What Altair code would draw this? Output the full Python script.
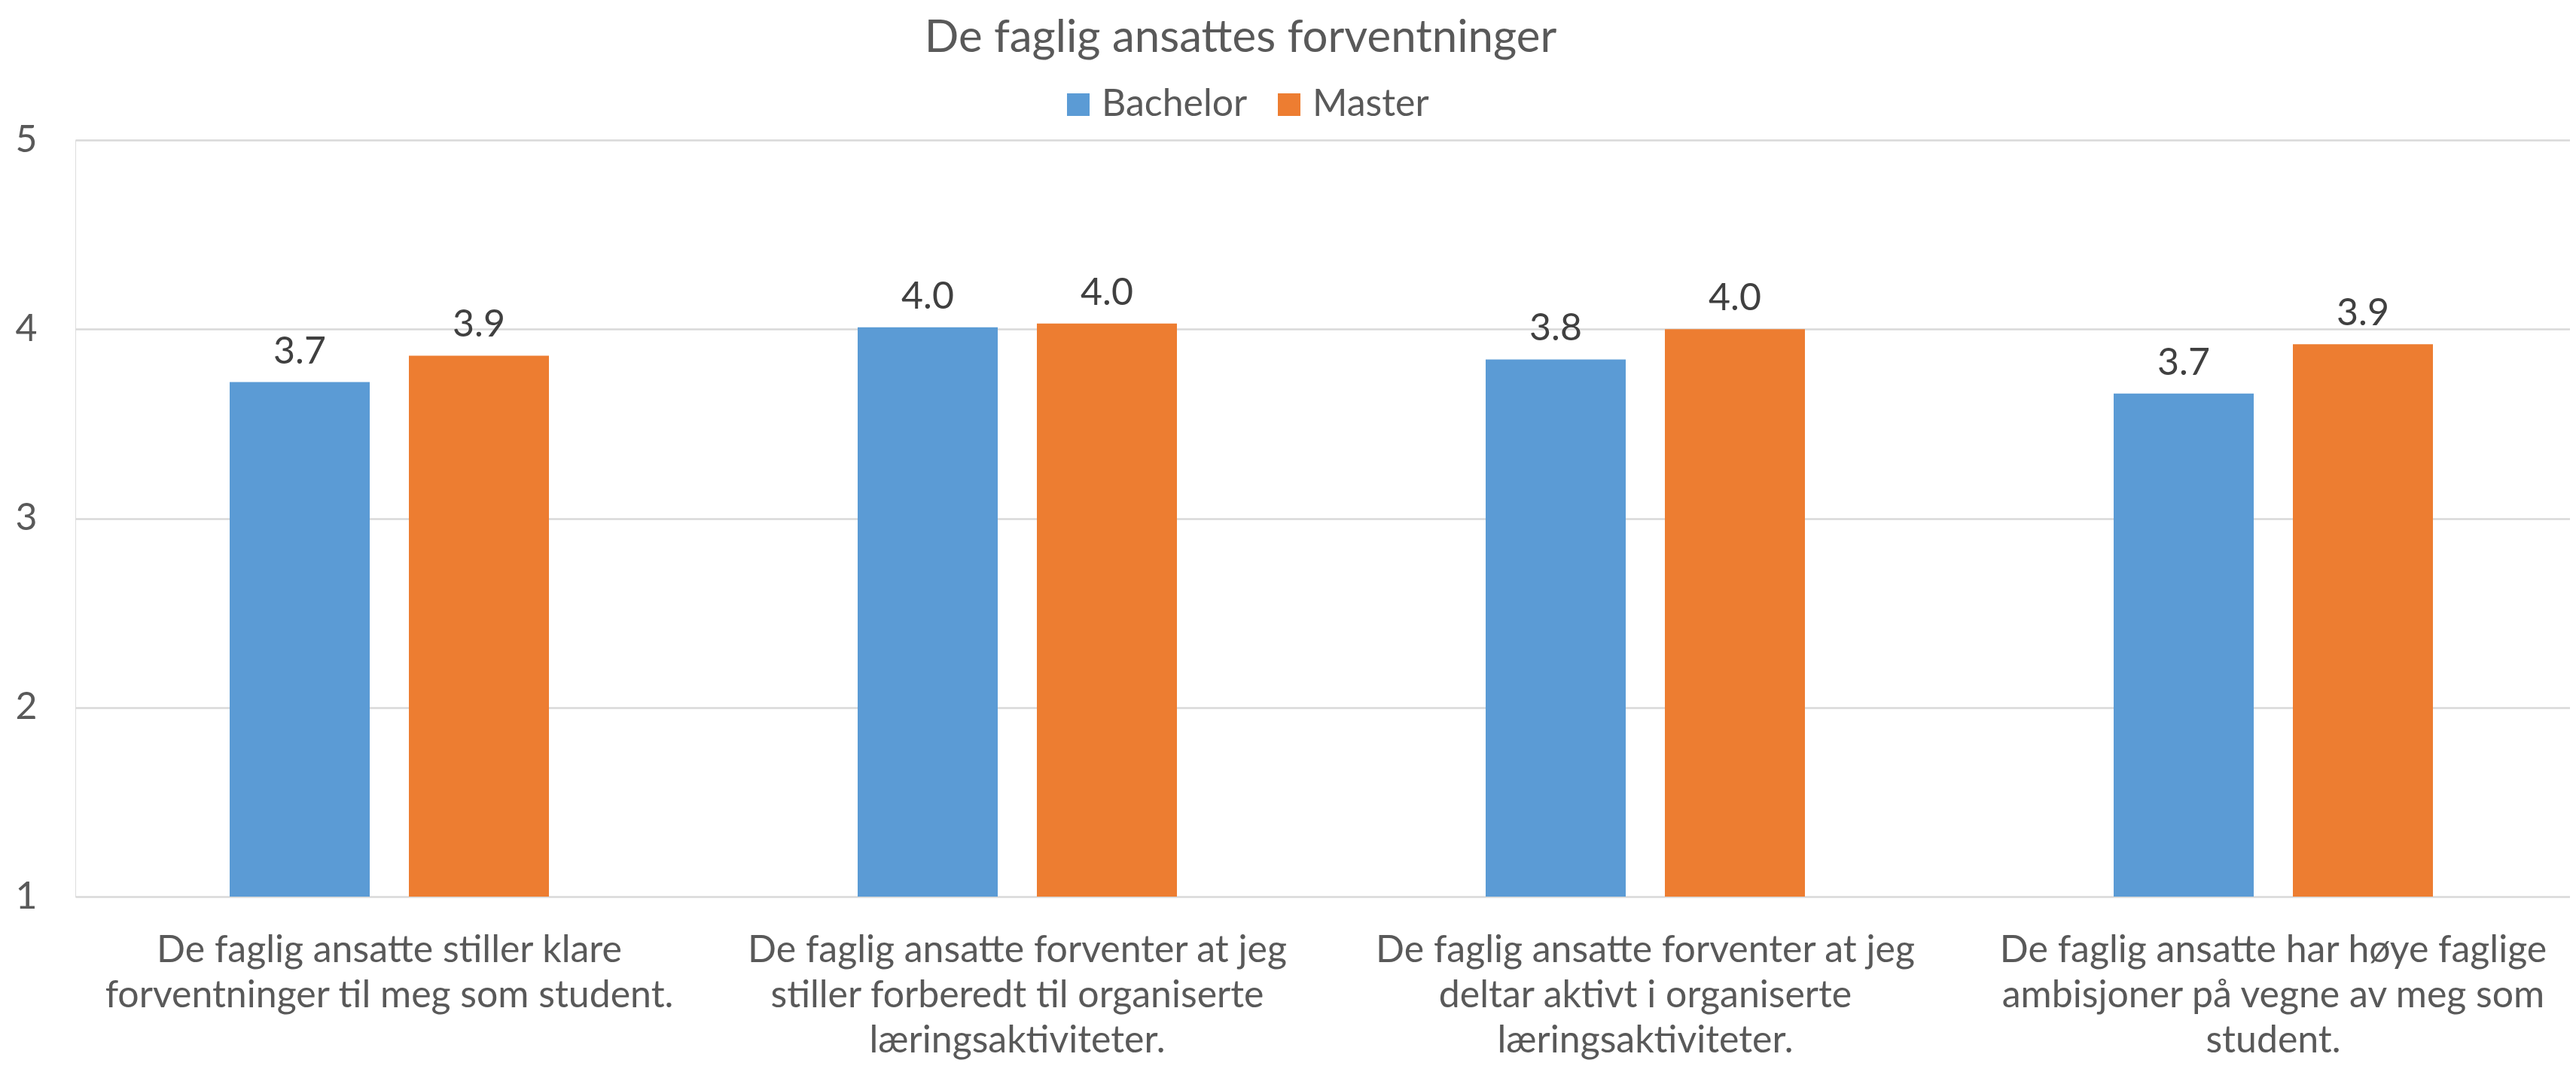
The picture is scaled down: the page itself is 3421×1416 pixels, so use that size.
import altair as alt
import pandas as pd

categories = [
    "De faglig ansatte stiller klare|forventninger til meg som student.",
    "De faglig ansatte forventer at jeg|stiller forberedt til organiserte|læringsaktiviteter.",
    "De faglig ansatte forventer at jeg|deltar aktivt i organiserte|læringsaktiviteter.",
    "De faglig ansatte har høye faglige|ambisjoner på vegne av meg som|student.",
]
series = ["Bachelor", "Master"]
bachelor = [3.72, 4.01, 3.84, 3.66]
master = [3.86, 4.03, 4.00, 3.92]
y_ticks = [1, 2, 3, 4, 5]
colors = ["#5B9BD5", "#ED7D31"]

rows = []
for i, c in enumerate(categories):
    rows.append({"cat": c, "series": series[0], "value": bachelor[i]})
    rows.append({"cat": c, "series": series[1], "value": master[i]})
df = pd.DataFrame(rows)

FONT = "Lato"
TXT = "#595959"
W, H = 3313, 1005

x_enc = alt.X(
    "cat:N", sort=categories, title=None,
    scale=alt.Scale(range=[0, 3336], paddingInner=0.4916, paddingOuter=0.2458),
    axis=alt.Axis(labelAngle=0, labelExpr="split(datum.label, '|')",
                  labelFontSize=50, labelColor=TXT, labelFont=FONT,
                  labelLineHeight=60, labelPadding=46, ticks=False,
                  domain=False, labelLimit=2000),
)
xo_enc = alt.XOffset("series:N", sort=series,
                     scale=alt.Scale(paddingInner=0.2185, paddingOuter=0))
y_enc = alt.Y(
    "value:Q", title=None,
    scale=alt.Scale(domain=[1, 5], nice=False, zero=False),
    axis=alt.Axis(values=y_ticks, format="d", labelFontSize=50, labelColor=TXT,
                  labelFont=FONT, labelPadding=51, ticks=False, domain=False,
                  gridColor="#D9D9D9", gridWidth=2.5, minExtent=92, maxExtent=92),
)
color_enc = alt.Color(
    "series:N", sort=series,
    scale=alt.Scale(domain=series, range=colors),
    legend=alt.Legend(title=None, orient="none", legendX=1307, legendY=-72,
                      direction="horizontal", symbolType="square", symbolSize=900,
                      symbolStrokeWidth=0, labelFontSize=50, labelFont=FONT,
                      labelColor=TXT, labelOffset=6, columnPadding=30,
                      labelLimit=600, padding=0),
)

bars = alt.Chart(df).mark_bar().encode(
    x=x_enc, xOffset=xo_enc, y=y_enc, y2=alt.datum(1), color=color_enc
)
labels = alt.Chart(df).mark_text(
    baseline="alphabetic", dy=-25, fontSize=50, font=FONT, color="#404040"
).encode(x=x_enc, xOffset=xo_enc, y=y_enc, text=alt.Text("value:Q", format=".1f"))

chart = alt.layer(bars, labels).properties(
    width=W, height=H,
    title=alt.TitleParams("De faglig ansattes forventninger", fontSize=60, font=FONT,
                          color=TXT, fontWeight="normal", anchor="middle",
                          frame="group", dx=-109, offset=-15, baseline="alphabetic"),
    autosize=alt.AutoSizeParams(type="none"),
    padding={"left": 92, "top": 178, "right": 0, "bottom": 217},
).configure_view(stroke=None).configure(background="white")

chart.save("out.html", embed_options={"renderer": "svg", "actions": False})
